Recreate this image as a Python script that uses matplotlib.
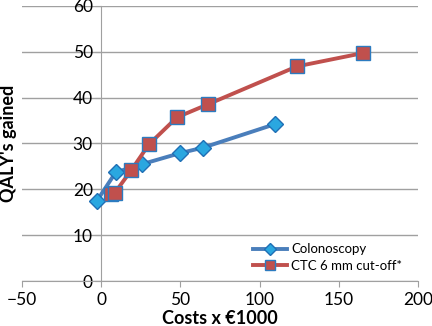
import matplotlib
matplotlib.use("Agg")
import matplotlib.pyplot as plt

# Colonoscopy strategies
colo_cost = [-2.9, 9.1, 25.9, 49.9, 64.4, 109.6]
colo_qaly = [17.4, 23.7, 25.5, 27.9, 29.1, 34.2]

# CTC 6 mm cut-off strategies
ctc_cost = [6.1, 8.7, 18.8, 30.1, 47.8, 67.1, 123.5, 165.1]
ctc_qaly = [19.0, 19.3, 24.1, 29.8, 35.7, 38.5, 46.8, 49.7]

plt.rcParams['font.family'] = ['Lato', 'DejaVu Sans']

fig = plt.figure(figsize=(4.32, 3.26), dpi=100)
ax = fig.add_axes([0.051, 0.138, 0.917, 0.844])

ax.plot(colo_cost, colo_qaly, color='#4A7EBB', lw=2.8, marker='D', ms=8.5,
        mfc='#2AA7E0', mec='#1F6FB5', mew=1.0, label='Colonoscopy', zorder=3)
ax.plot(ctc_cost, ctc_qaly, color='#C0504D', lw=2.8, marker='s', ms=9.5,
        mfc='#C0504D', mec='#2C7BC0', mew=1.0, label='CTC 6 mm cut-off*', zorder=4)

ax.set_xlim(-50, 200)
ax.set_ylim(0, 60)
ax.set_xticks([-50, 0, 50, 100, 150, 200])
ax.set_yticks(range(0, 61, 10))
ax.yaxis.grid(True, color='#A0A0A0', lw=1.0)
ax.set_axisbelow(True)

for s in ['top', 'right']:
    ax.spines[s].set_visible(False)
ax.spines['left'].set_position(('data', 0))
ax.spines['left'].set_color('#A0A0A0')
ax.spines['bottom'].set_color('#A0A0A0')
ax.tick_params(axis='both', colors='#A0A0A0', labelcolor='black', labelsize=12.5, length=4)
ax.tick_params(axis='x', pad=4)
ax.tick_params(axis='y', pad=2)

ax.set_xlabel('Costs x €1000', fontsize=13, fontweight='bold', labelpad=1)
ax.set_ylabel("QALY's gained", fontsize=13, fontweight='bold')
ax.yaxis.set_label_coords(-0.012, 0.5)

ax.legend(loc='lower right', bbox_to_anchor=(0.99, -0.01), frameon=False, fontsize=9.5,
          handlelength=2.6, handletextpad=0.3, labelspacing=0.35, markerscale=0.7)

fig.savefig('out.png', dpi=100)
